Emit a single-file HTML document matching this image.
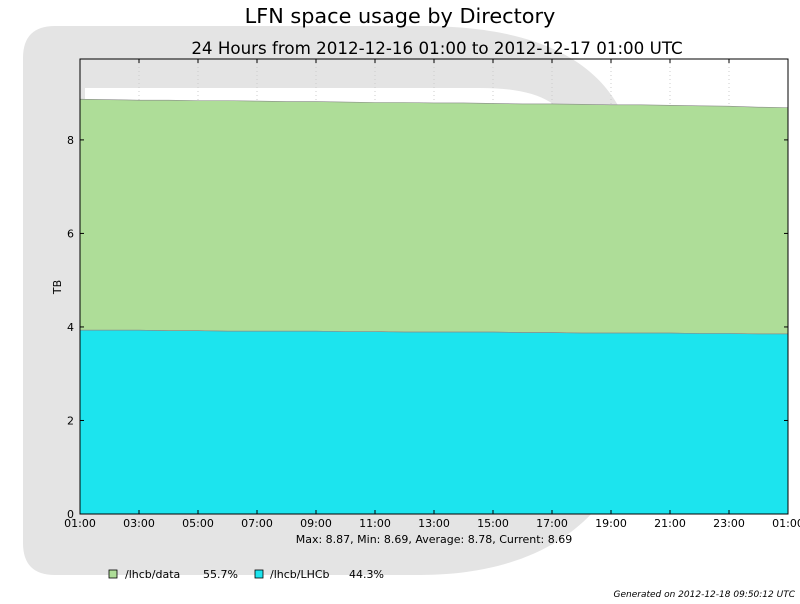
<!DOCTYPE html>
<html><head><meta charset="utf-8"><style>
body{margin:0;background:#fff;font-family:"DejaVu Sans","Liberation Sans",sans-serif}
svg text{font-family:"DejaVu Sans","Liberation Sans",sans-serif}
</style></head><body>
<svg id="c" width="800" height="600" viewBox="0 0 800 600">
<path fill="#e4e4e4" fill-rule="evenodd" d="M55 26 H420 C580 26 640 90 640 200 V380 C640 500 560 575 420 575 H55 Q23 575 23 543 V58 Q23 26 55 26 Z M85 88 H480 C565 88 585 120 585 200 V400 C585 480 525 510 430 510 H85 Z"/>
<text x="400" y="23" font-size="20.8" text-anchor="middle">LFN space usage by Directory</text>
<text x="437" y="54" font-size="16.7" text-anchor="middle">24 Hours from 2012-12-16 01:00 to 2012-12-17 01:00 UTC</text>
<g id="grid"></g><g id="areas"></g><g id="axes"></g>
<text x="434" y="543" font-size="11" text-anchor="middle">Max: 8.87, Min: 8.69, Average: 8.78, Current: 8.69</text>
<text x="61" y="287" font-size="11" text-anchor="middle" transform="rotate(-90 61 287)">TB</text>
<g>
<rect x="109" y="570" width="8" height="8" fill="#aedd98" stroke="#000" stroke-width="0.8"/>
<text x="125" y="578" font-size="11">/lhcb/data</text>
<text x="203" y="578" font-size="11">55.7%</text>
<rect x="255" y="570" width="8" height="8" fill="#1ce4ee" stroke="#000" stroke-width="0.8"/>
<text x="270" y="578" font-size="11">/lhcb/LHCb</text>
<text x="349" y="578" font-size="11">44.3%</text>
</g>
<text x="795" y="597" font-size="9" font-style="italic" text-anchor="end">Generated on 2012-12-18 09:50:12 UTC</text>
</svg>
<script>
const hours=[0,1,2,3,4,5,6,7,8,9,10,11,12,13,14,15,16,17,18,19,20,21,22,23,24];
const lhcbValues=[3.93,3.93,3.93,3.92,3.92,3.91,3.91,3.91,3.91,3.90,3.90,3.89,3.89,3.89,3.89,3.88,3.88,3.87,3.87,3.87,3.87,3.86,3.86,3.85,3.85];
const totalValues=[8.87,8.86,8.85,8.85,8.84,8.84,8.83,8.82,8.82,8.81,8.80,8.80,8.79,8.79,8.78,8.77,8.77,8.76,8.75,8.75,8.74,8.73,8.72,8.70,8.69];
const xTickLabels=["01:00","03:00","05:00","07:00","09:00","11:00","13:00","15:00","17:00","19:00","21:00","23:00","01:00"];
const yTicks=[0,2,4,6,8];
const X0=80,X1=788,Y0=514,YT=59,YMAX=9.73;
const x=h=>X0+h/24*(X1-X0), y=v=>Y0-v/YMAX*(Y0-YT);
const NS="http://www.w3.org/2000/svg";
function mk(t,a,p){const e=document.createElementNS(NS,t);for(const k in a)e.setAttribute(k,a[k]);p.appendChild(e);return e;}
const grid=document.getElementById('grid'),areas=document.getElementById('areas'),axes=document.getElementById('axes');
let p1="M"+x(0)+" "+Y0;hours.forEach((h,i)=>p1+=" L"+x(h)+" "+y(lhcbValues[i]));p1+=" L"+x(24)+" "+Y0+"Z";
let p2="M"+x(0)+" "+y(lhcbValues[0]);hours.forEach((h,i)=>p2+=" L"+x(h)+" "+y(totalValues[i]));
for(let i=hours.length-1;i>=0;i--)p2+=" L"+x(hours[i])+" "+y(lhcbValues[i]);p2+="Z";
const a2=mk('path',{d:p2,fill:'#aedd98',stroke:'#888','stroke-width':0.6},areas);


const a1=mk('path',{d:p1,fill:'#1ce4ee',stroke:'#888','stroke-width':0.6},areas);


xTickLabels.forEach((l,i)=>{const xx=x(i*2);
 const g=mk('line',{x1:xx,x2:xx,y1:YT,y2:Y0,stroke:'#ccc','stroke-dasharray':'1,3'},grid);
 
 
 mk('line',{x1:xx,x2:xx,y1:Y0,y2:Y0-4,stroke:'#000'},axes);
 mk('line',{x1:xx,x2:xx,y1:YT,y2:YT+4,stroke:'#000'},axes);
 const t=mk('text',{x:xx,y:527,'font-size':11,'text-anchor':'middle'},axes);t.textContent=l;
 
 });
yTicks.forEach(v=>{const yy=y(v);
 const g=mk('line',{x1:X0,x2:X1,y1:yy,y2:yy,stroke:'#ccc','stroke-dasharray':'1,3'},grid);
 
 
 mk('line',{x1:X0,x2:X0+4,y1:yy,y2:yy,stroke:'#000'},axes);
 mk('line',{x1:X1,x2:X1-4,y1:yy,y2:yy,stroke:'#000'},axes);
 const t=mk('text',{x:74,y:yy+4,'font-size':11,'text-anchor':'end'},axes);t.textContent=v;
 
 });
const fr=mk('rect',{x:X0,y:YT,width:X1-X0,height:Y0-YT,fill:'none',stroke:'#000','stroke-width':1},axes);


</script>
</body></html>
